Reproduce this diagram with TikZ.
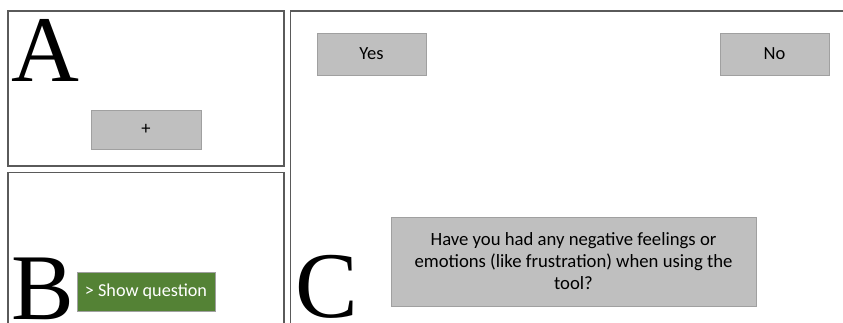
\documentclass[tikz,border=0pt]{standalone}
\usepackage{fontspec}
\setmainfont{Carlito}
\newfontfamily\letterfont{Liberation Serif}
\definecolor{btngray}{HTML}{BFBFBF}
\definecolor{btnedge}{HTML}{A0A0A0}
\definecolor{panelline}{HTML}{5A5A5A}
\definecolor{btngreen}{HTML}{548235}
\tikzset{
  panel/.style={draw=panelline, line width=1.1pt},
  bigletter/.style={inner sep=0pt, anchor=base west, font=\letterfont\fontsize{94}{94}\selectfont},
  graybtn/.style={draw=btnedge, fill=btngray, line width=0.8pt, inner sep=0pt, font=\fontsize{18.5}{22}\selectfont},
  greenbtn/.style={draw=btnedge, fill=btngreen, line width=0.8pt, inner sep=0pt, text=white, font=\fontsize{18.2}{22}\selectfont}
}
\begin{document}
\begin{tikzpicture}[x=1pt,y=-1pt]
\useasboundingbox (0,0) rectangle (843,323);
\clip (0,0) rectangle (843,323);
% panels
\draw[panel] (8,11) rectangle (284,166);
\draw[panel] (8,172.5) rectangle (284,340);
\draw[panel] (290.5,11) rectangle (870,340);
% letters
\node[bigletter] (la) at (11,82) {A};
\node[bigletter] (lb) at (11,319) {B};
\node[bigletter] (lc) at (295,317) {C};
% buttons
\node[graybtn, minimum width=110pt, minimum height=39pt] (plus) at (146,129.5) {+};
\node[greenbtn, minimum width=138pt, minimum height=39pt] (show) at (146,291.5) {> Show question};
\node[graybtn, minimum width=109pt, minimum height=42pt] (yes) at (371.5,54) {Yes};
\node[graybtn, minimum width=109pt, minimum height=42pt] (no) at (774.5,54) {No};
\node[graybtn, minimum width=365pt, minimum height=89pt, align=center, font=\fontsize{18.7}{22}\selectfont] (q) at (573.5,261.5) {Have you had any negative feelings or\\emotions (like frustration) when using the\\tool?};
\end{tikzpicture}
\end{document}
